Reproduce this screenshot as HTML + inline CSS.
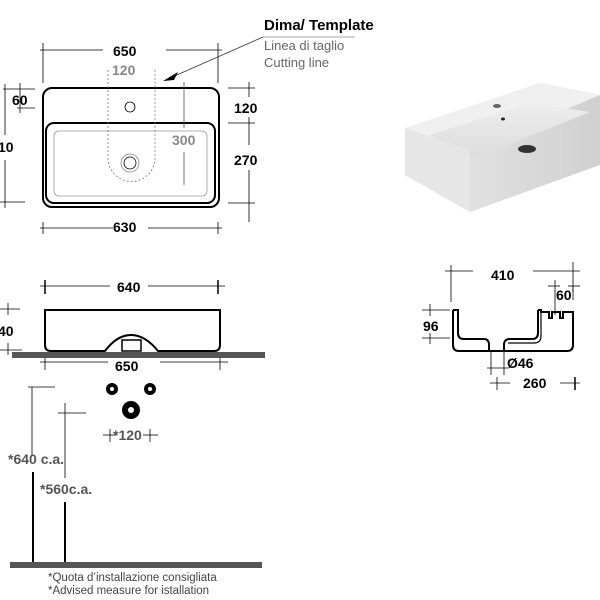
<!DOCTYPE html>
<html><head><style>body{margin:0;background:#fff}svg{display:block}text{font-family:"Liberation Sans",Arial,sans-serif}</style></head><body>
<svg width="600" height="600" viewBox="0 0 600 600" xmlns="http://www.w3.org/2000/svg">
<defs>
<linearGradient id="g1" x1="0" y1="0" x2="0" y2="1"><stop offset="0" stop-color="#eeeeee"/><stop offset="1" stop-color="#dcdcdc"/></linearGradient>
<linearGradient id="g2" x1="0" y1="0" x2="1" y2="0"><stop offset="0" stop-color="#e8e8e8"/><stop offset="1" stop-color="#d0d0d0"/></linearGradient>
</defs>
<g stroke="#000" fill="none" stroke-width="0.8">
<rect x="43" y="88" width="176" height="119" rx="9" stroke-width="2"/>
<rect x="46" y="123" width="169" height="80" rx="8" stroke-width="2"/>
<rect x="54" y="131" width="153" height="65" rx="5" stroke="#999"/>
<circle cx="130" cy="107" r="5"/>
<circle cx="130" cy="163" r="9" stroke="#888"/><circle cx="130" cy="163" r="6"/>
<path d="M108 70 V158 A23.5 23.5 0 0 0 155 158 V70" stroke="#777" stroke-dasharray="2 2"/>
<line x1="43" y1="43" x2="43" y2="83"/><line x1="218" y1="43" x2="218" y2="83"/>
<line x1="40" y1="50" x2="103" y2="50"/><line x1="166" y1="50" x2="222" y2="50"/>
<line x1="184" y1="82" x2="184" y2="128" stroke="#555"/><line x1="184" y1="152" x2="184" y2="185" stroke="#555"/>
<line x1="3" y1="89" x2="35" y2="89"/><line x1="17" y1="108" x2="35" y2="108"/><line x1="20" y1="83" x2="20" y2="113"/>
<line x1="5" y1="84" x2="5" y2="135"/><line x1="5" y1="160" x2="5" y2="208"/><line x1="0" y1="202" x2="25" y2="202"/>
<line x1="228" y1="88" x2="255" y2="88"/><line x1="228" y1="123" x2="255" y2="123"/><line x1="228" y1="203" x2="255" y2="203"/>
<line x1="249" y1="82" x2="249" y2="97"/><line x1="249" y1="117" x2="249" y2="145"/><line x1="249" y1="170" x2="249" y2="222"/>
<line x1="40" y1="228" x2="113" y2="228"/><line x1="148" y1="228" x2="222" y2="228"/>
<line x1="43" y1="222" x2="43" y2="234"/><line x1="218" y1="222" x2="218" y2="234"/>
<line x1="263" y1="37" x2="355" y2="37" stroke="#888"/><line x1="263" y1="37" x2="170" y2="78" stroke="#333"/>
<line x1="40" y1="286" x2="110" y2="286"/><line x1="148" y1="286" x2="225" y2="286"/>
<line x1="45" y1="280" x2="45" y2="294" stroke-width="1.5"/><line x1="218" y1="280" x2="218" y2="294" stroke-width="1.5"/>
<path d="M45 310 H220 V345 Q220 351 214 351 H158 Q145 335 131 335 Q117 335 105 351 H51 Q45 351 45 345 Z" stroke-width="2"/>
<rect x="122" y="340" width="19" height="11" stroke-width="1.5"/>
<line x1="0" y1="309" x2="20" y2="309"/><line x1="0" y1="350" x2="22" y2="350"/><line x1="8" y1="303" x2="8" y2="315"/><line x1="8" y1="343" x2="8" y2="355"/>
<line x1="40" y1="362" x2="108" y2="362"/><line x1="160" y1="362" x2="228" y2="362"/>
<line x1="45" y1="356" x2="45" y2="370"/><line x1="220" y1="356" x2="220" y2="370"/>
<line x1="103" y1="435" x2="116" y2="435"/><line x1="110" y1="429" x2="110" y2="442"/><line x1="143" y1="435" x2="158" y2="435"/><line x1="150" y1="429" x2="150" y2="442"/>
<line x1="32" y1="387" x2="32" y2="455"/><line x1="28" y1="387" x2="55" y2="387"/>
<line x1="65" y1="403" x2="65" y2="478"/><line x1="58" y1="413" x2="86" y2="413"/>
<line x1="33" y1="472" x2="33" y2="565" stroke-width="2"/><line x1="65" y1="502" x2="65" y2="565" stroke-width="2"/>
<line x1="451" y1="265" x2="451" y2="302"/><line x1="445" y1="271" x2="473" y2="271"/><line x1="533" y1="271" x2="580" y2="271"/><line x1="573" y1="262" x2="573" y2="292"/>
<line x1="555" y1="280" x2="555" y2="315"/><line x1="548" y1="286" x2="560" y2="286"/><line x1="568" y1="286" x2="580" y2="286"/><line x1="573" y1="286" x2="573" y2="300"/>
<line x1="422" y1="310" x2="450" y2="310"/><line x1="422" y1="338" x2="450" y2="338"/><line x1="430" y1="304" x2="430" y2="316"/><line x1="430" y1="333" x2="430" y2="344"/>
<g stroke-width="2">
<path d="M453 310 V345 Q453 351 459 351 H567 Q573 351 573 345 V312 H563 V318 H560 V312 H552 V318 H549 V312 H541 V310 H538"/>
<path d="M453 310 H458 V333 Q458 339 464 339 H484 Q489 339 489 345 V351"/>
<path d="M504 351 V345 Q504 339 510 339 H532 Q538 339 538 333 V310"/>
</g>
<path d="M541 312 V336 Q541 343 534 343 H508" stroke-width="1.2"/>
<line x1="491" y1="352" x2="491" y2="375"/><line x1="504" y1="352" x2="504" y2="375"/><line x1="487" y1="368" x2="508" y2="368"/>
<line x1="490" y1="383" x2="510" y2="383"/><line x1="497" y1="377" x2="497" y2="390"/><line x1="560" y1="383" x2="580" y2="383"/><line x1="575" y1="377" x2="575" y2="390" stroke-width="1.5"/>
</g>
<path d="M163 81 L178 72 L174 80 Z" fill="#000"/>
<rect x="12" y="352" width="253" height="6" fill="#555"/>
<rect x="10" y="562" width="252" height="6" fill="#555"/>
<circle cx="112" cy="389" r="6" fill="#000"/><circle cx="112" cy="389" r="2" fill="#fff"/>
<circle cx="150" cy="389" r="6" fill="#000"/><circle cx="150" cy="389" r="2" fill="#fff"/>
<circle cx="131" cy="410" r="9" fill="#000"/><circle cx="131" cy="410" r="3" fill="#fff"/>
<polygon points="405,128 540,83 600,95 600,165 470,212 405,175" fill="url(#g2)"/>
<polygon points="405,128 540,83 600,95 470,150" fill="#f0f0f0"/>
<polygon points="430,135 530,103 590,112 475,158" fill="url(#g1)"/>
<polygon points="405,128 470,150 470,212 405,175" fill="#e6e6e6"/>
<ellipse cx="497" cy="106" rx="4" ry="2" fill="#666"/>
<ellipse cx="503" cy="119" rx="2" ry="1.5" fill="#222"/>
<ellipse cx="527" cy="149" rx="9" ry="4" fill="#333"/>
<g font-weight="bold" font-size="14">
<text x="113" y="56">650</text><text x="112" y="75" fill="#888">120</text><text x="172" y="145" fill="#888">300</text>
<text x="12" y="105">60</text><text x="-2" y="152">10</text><text x="234" y="113">120</text><text x="234" y="165">270</text>
<text x="113" y="232">630</text><text x="117" y="292">640</text><text x="-2" y="336">40</text><text x="115" y="371">650</text>
<text x="113" y="440" fill="#555">*120</text><text x="8" y="464" fill="#555">*640 c.a.</text><text x="40" y="494" fill="#555">*560c.a.</text>
<text x="491" y="280">410</text><text x="556" y="300">60</text><text x="423" y="331">96</text><text x="507" y="368">Ø46</text><text x="523" y="388">260</text>
<text x="264" y="30" font-size="15">Dima/ Template</text>
</g>
<text x="264" y="50" font-size="13" fill="#666">Linea di taglio</text>
<text x="264" y="67" font-size="13" fill="#666">Cutting line</text>
<text x="48" y="581" font-size="11.5" fill="#444">*Quota d’installazione consigliata</text>
<text x="48" y="594" font-size="11.5" fill="#444">*Advised measure for istallation</text>
</svg>
</body></html>
